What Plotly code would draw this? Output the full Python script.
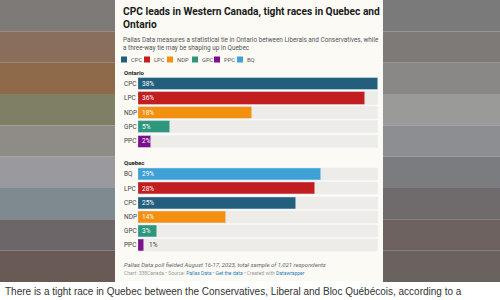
import plotly.graph_objects as go

parties = ["CPC", "LPC", "NDP", "GPC", "PPC", "BQ"]
colors = {"CPC": "#235e7c", "LPC": "#c21d1f", "NDP": "#f39010", "GPC": "#2e967c", "PPC": "#7b0f8c", "BQ": "#3ea0d4"}

ontario_parties = ["CPC", "LPC", "NDP", "GPC", "PPC"]
ontario_values = [38, 36, 18, 5, 2]
quebec_parties = ["BQ", "LPC", "CPC", "NDP", "GPC", "PPC"]
quebec_values = [29, 28, 25, 14, 3, 1]

title = "CPC leads in Western Canada, tight races in Quebec and<br>Ontario"
subtitle = ("Pallas Data measures a statistical tie in Ontario between Liberals and Conservatives, while<br>"
            "a three-way tie may be shaping up in Quebec")
note = "Pallas Data poll fielded August 16-17, 2023, total sample of 1,021 respondents"
source = ("Chart: 338Canada • Source: <span style='color:#2a7fb8'>Pallas Data</span> • "
          "<span style='color:#2a7fb8'>Get the data</span> • Created with <span style='color:#2a7fb8'>Datawrapper</span>")
body = "There is a tight race in Quebec between the Conservatives, Liberal and Bloc Québécois, according to a"

W, H = 500, 300
FONT = "Roboto"
xmax = max(ontario_values + quebec_values)

def px(x):
    return x / W

def py(y):
    return 1 - y / H

fig = go.Figure()

# background blurred-looking side bands
bands_left = ["#7d7a78", "#8a6e5c", "#8e6a48", "#7f7f66", "#8f8c88", "#9a9a9e", "#7f8a90", "#6c6668", "#6a5a56"]
bands_right = ["#7a7a7a", "#7e7a78", "#8a8886", "#9a9a98", "#8c8e92", "#7a7c80", "#6f6a6c", "#6e6260", "#6a625e"]
n = len(bands_left)
shapes = []
for i in range(n):
    y0 = i * 282 / n
    y1 = (i + 1) * 282 / n
    shapes.append(dict(type="rect", xref="paper", yref="paper", x0=0, x1=px(115), y0=py(y1), y1=py(y0),
                       fillcolor=bands_left[i], line_width=0, layer="below"))
    shapes.append(dict(type="rect", xref="paper", yref="paper", x0=px(383), x1=1, y0=py(y1), y1=py(y0),
                       fillcolor=bands_right[i], line_width=0, layer="below"))
# panel
shapes.append(dict(type="rect", xref="paper", yref="paper", x0=px(115), x1=px(383), y0=py(281), y1=1,
                   fillcolor="#fcfaf5", line_width=0, layer="below"))

def add_group(parts, vals, xa, ya):
    fig.add_trace(go.Bar(x=[xmax] * len(parts), y=parts, orientation="h", marker_color="#eeece8",
                         width=0.84, hoverinfo="skip", showlegend=False, xaxis=xa, yaxis=ya))
    fig.add_trace(go.Bar(x=vals, y=parts, orientation="h", marker_color=[colors[p] for p in parts],
                         width=0.84, showlegend=False, xaxis=xa, yaxis=ya))

add_group(ontario_parties, ontario_values, "x", "y")
add_group(quebec_parties, quebec_values, "x2", "y2")

annotations = []
def label_group(parts, vals, xr, yr):
    for p, v in zip(parts, vals):
        annotations.append(dict(xref="paper", yref=yr, x=px(122), y=p, text=p, showarrow=False,
                                xanchor="left", yanchor="middle", font=dict(family=FONT, size=6.5, color="#444")))
        inside = v >= 2
        annotations.append(dict(xref=xr, yref=yr, x=0 if inside else v, y=p, text=f"{v}%", showarrow=False,
                                xanchor="left", yanchor="middle", xshift=2 if inside else 3,
                                font=dict(family=FONT, size=6.5, color="#ffffff" if inside else "#444")))

label_group(ontario_parties, ontario_values, "x", "y")
label_group(quebec_parties, quebec_values, "x2", "y2")

# title etc
annotations.append(dict(xref="paper", yref="paper", x=px(121), y=py(4), text="<b>" + title + "</b>", showarrow=False,
                        xanchor="left", yanchor="top", align="left",
                        font=dict(family=FONT, size=10.2, color="#1a1a1a")))
annotations.append(dict(xref="paper", yref="paper", x=px(121), y=py(34), text=subtitle, showarrow=False,
                        xanchor="left", yanchor="top", align="left",
                        font=dict(family=FONT, size=6.4, color="#555")))
# legend
legend_x = [121, 144, 167, 192, 214, 237]
for p, lx in zip(parties, legend_x):
    shapes.append(dict(type="rect", xref="paper", yref="paper", x0=px(lx), x1=px(lx + 6), y0=py(62.5), y1=py(56.5),
                       fillcolor=colors[p], line_width=0))
    annotations.append(dict(xref="paper", yref="paper", x=px(lx + 7.5), y=py(59.5), text=p, showarrow=False,
                            xanchor="left", yanchor="middle", font=dict(family=FONT, size=5.8, color="#555")))
annotations.append(dict(xref="paper", yref="paper", x=px(122), y=py(72), text="<b>Ontario</b>", showarrow=False,
                        xanchor="left", yanchor="middle", font=dict(family=FONT, size=6, color="#222")))
annotations.append(dict(xref="paper", yref="paper", x=px(122), y=py(162.5), text="<b>Quebec</b>", showarrow=False,
                        xanchor="left", yanchor="middle", font=dict(family=FONT, size=6, color="#222")))
annotations.append(dict(xref="paper", yref="paper", x=px(122), y=py(264), text="<i>" + note + "</i>", showarrow=False,
                        xanchor="left", yanchor="middle", font=dict(family=FONT, size=6, color="#666")))
annotations.append(dict(xref="paper", yref="paper", x=px(122), y=py(273), text=source, showarrow=False,
                        xanchor="left", yanchor="middle", font=dict(family=FONT, size=5, color="#999")))
annotations.append(dict(xref="paper", yref="paper", x=px(3), y=py(291), text=body, showarrow=False,
                        xanchor="left", yanchor="middle", font=dict(family="Liberation Sans", size=10, color="#333")))

xd = [px(138), px(378)]
fig.update_layout(
    width=W, height=H, margin=dict(l=0, r=0, t=0, b=0),
    paper_bgcolor="#ffffff", plot_bgcolor="rgba(0,0,0,0)",
    barmode="overlay", bargap=0,
    xaxis=dict(domain=xd, range=[0, xmax], visible=False, fixedrange=True),
    yaxis=dict(domain=[py(148.5), py(76.8)], autorange="reversed", visible=False,
               categoryorder="array", categoryarray=ontario_parties),
    xaxis2=dict(domain=xd, range=[0, xmax], visible=False, anchor="y2"),
    yaxis2=dict(domain=[py(252.6), py(167.2)], autorange="reversed", visible=False, anchor="x2",
                categoryorder="array", categoryarray=quebec_parties),
    shapes=shapes, annotations=annotations, showlegend=False,
)
fig.write_html("out.html")
